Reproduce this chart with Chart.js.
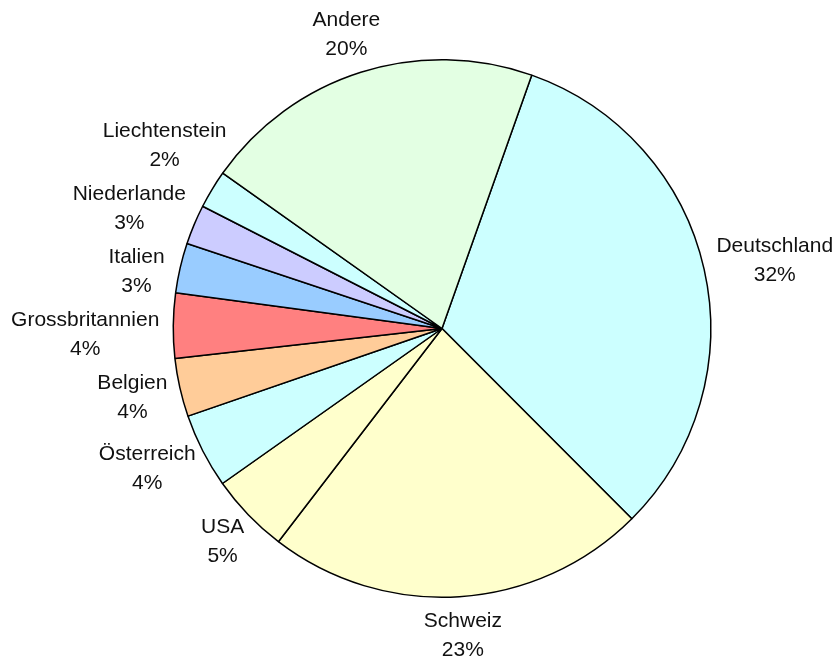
<!DOCTYPE html>
<html>
<head>
<meta charset="utf-8">
<script src="https://cdn.jsdelivr.net/npm/chart.js@4/dist/chart.umd.min.js"></script>
<style>
  body { margin: 0; background: #fff; }
  canvas { display: block; }
</style>
</head>
<body>
<canvas id="myChart" width="837" height="659"></canvas>
<script>
const countries = ['Deutschland', 'Schweiz', 'USA', 'Österreich', 'Belgien', 'Grossbritannien', 'Italien', 'Niederlande', 'Liechtenstein', 'Andere'];
const shares = [32.1, 22.9, 4.8, 4.5, 3.5, 3.9, 3.0, 2.4, 2.3, 20.6];
const shareLabels = ['32%', '23%', '5%', '4%', '4%', '4%', '3%', '3%', '2%', '20%'];
const sliceColors = ['#ccffff', '#ffffcc', '#ffffcc', '#ccffff', '#ffcc99', '#ff8080', '#99ccff', '#ccccff', '#ccffff', '#e3ffe3'];

// labels outside the pie, two lines each
const outsideLabels = {
  id: 'outsideLabels',
  afterDatasetsDraw(chart) {
    const ctx = chart.ctx;
    const arcs = chart.getDatasetMeta(0).data;
    const boxH = 50, gap = 14, lineGap = 29, minSpace = 63;
    ctx.save();
    ctx.font = '21px "Liberation Sans", Arial, sans-serif';
    ctx.fillStyle = '#111';
    ctx.textAlign = 'center';
    ctx.textBaseline = 'middle';

    const boxes = arcs.map((arc, i) => {
      const mid = (arc.startAngle + arc.endAngle) / 2;
      const w = Math.max(ctx.measureText(countries[i]).width, ctx.measureText(shareLabels[i]).width);
      const R = arc.outerRadius + gap;
      const dx = Math.cos(mid), dy = Math.sin(mid);
      return {
        i, w, R, arc, moved: false,
        cx: arc.x + (R + w / 2) * dx,
        cy: arc.y + (R + boxH / 2) * dy,
        left: dx < 0
      };
    });

    // spread crowded left-side labels apart (both ways)
    const left = boxes.filter(b => b.left).sort((a, b) => a.cy - b.cy);
    for (let iter = 0; iter < 200; iter++) {
      let changed = false;
      for (let k = 1; k < left.length; k++) {
        const a = left[k - 1], b = left[k];
        const overlap = minSpace - (b.cy - a.cy);
        if (overlap > 0.01) {
          a.cy -= overlap / 2; b.cy += overlap / 2;
          a.moved = b.moved = true;
          changed = true;
        }
      }
      if (!changed) break;
    }
    left.filter(b => b.moved).forEach(b => {
      let s = (b.cy - b.arc.y) / (b.R + boxH / 2);
      s = Math.max(-1, Math.min(1, s));
      b.cx = b.arc.x - (b.R + b.w / 2) * Math.sqrt(1 - s * s);
    });

    boxes.forEach(b => {
      ctx.fillText(countries[b.i], b.cx, b.cy - lineGap / 2);
      ctx.fillText(shareLabels[b.i], b.cx, b.cy + lineGap / 2);
    });
    ctx.restore();
  }
};

new Chart(document.getElementById('myChart'), {
  type: 'pie',
  data: {
    labels: countries,
    datasets: [{
      data: shares,
      backgroundColor: sliceColors,
      borderColor: '#000',
      borderWidth: 1.5
    }]
  },
  options: {
    responsive: false,
    animation: false,
    rotation: 19.5,
    layout: {
      padding: { left: 172, right: 125, top: 59, bottom: 61 }
    },
    plugins: {
      legend: { display: false },
      tooltip: { enabled: false }
    }
  },
  plugins: [outsideLabels]
});
</script>
</body>
</html>
